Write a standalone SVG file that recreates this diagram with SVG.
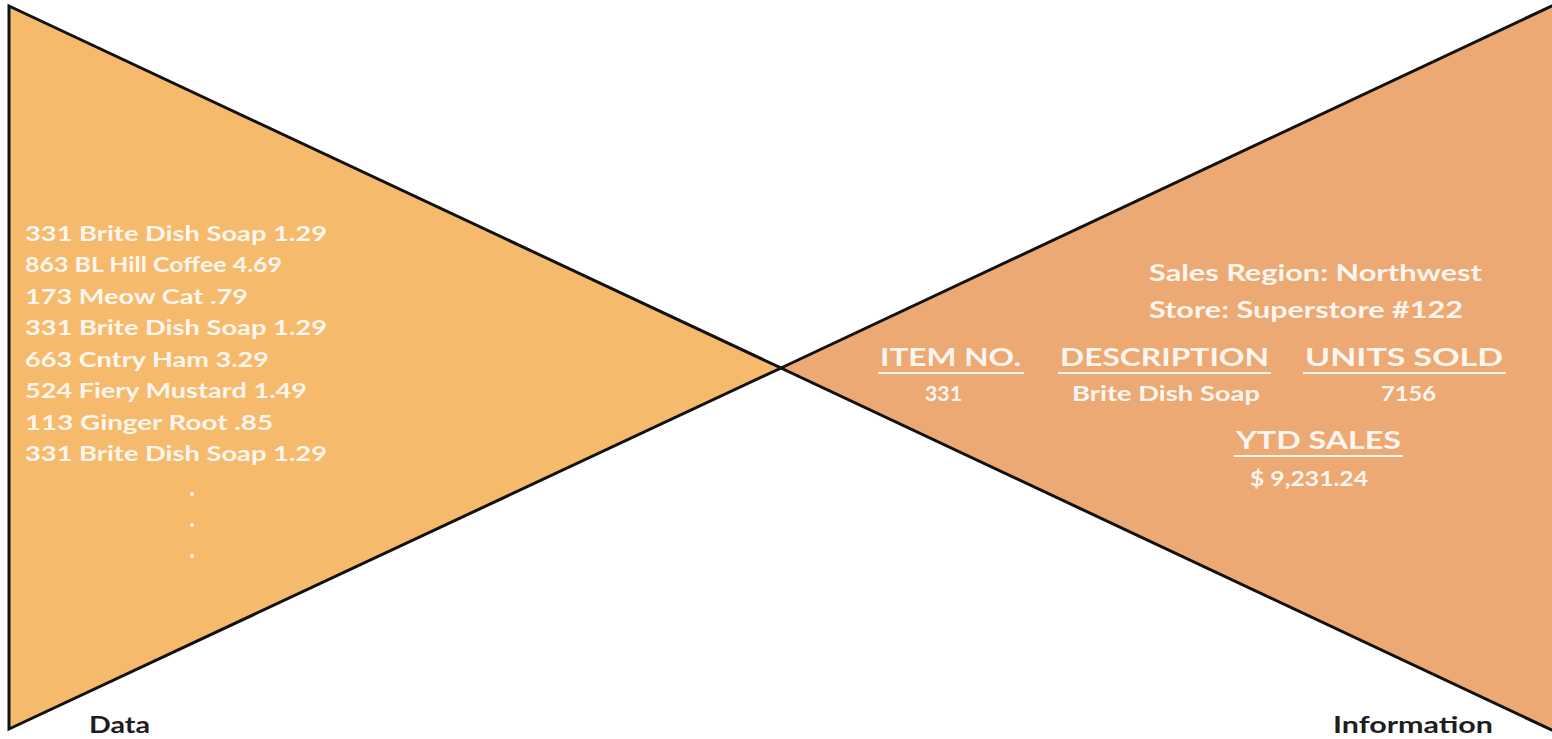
<svg xmlns="http://www.w3.org/2000/svg" width="1552" height="739" viewBox="0 0 1552 739">
<style>
.tri{stroke:#111;stroke-width:3;stroke-linejoin:miter}
.t{font-family:Lato,"Open Sans","Liberation Sans",sans-serif;font-weight:bold;fill:#fdf6ee}
.d{font-size:20px;white-space:pre}
.h{font-size:24px}
.v{font-size:21px}
.lbl{font-family:Lato,"Open Sans","Liberation Sans",sans-serif;font-weight:bold;font-size:22px;fill:#1e1e1e}
.ul{stroke:#fdf6ee;stroke-width:2}
</style>
<rect width="1552" height="739" fill="#ffffff"/>
<g id="data-triangle">
<polygon class="tri" points="9,6 781,368 9,729" fill="#F6BA6D"/>
<g class="t d" xml:space="preserve">
<text x="25" y="241" textLength="302" lengthAdjust="spacingAndGlyphs">331 Brite Dish Soap  1.29</text>
<text x="25" y="272" textLength="257" lengthAdjust="spacingAndGlyphs">863 BL Hill Coffee  4.69</text>
<text x="25" y="304" textLength="223" lengthAdjust="spacingAndGlyphs">173 Meow Cat  .79</text>
<text x="25" y="335" textLength="302" lengthAdjust="spacingAndGlyphs">331 Brite Dish Soap  1.29</text>
<text x="25" y="367" textLength="244" lengthAdjust="spacingAndGlyphs">663 Cntry Ham 3.29</text>
<text x="25" y="398" textLength="282" lengthAdjust="spacingAndGlyphs">524 Fiery Mustard  1.49</text>
<text x="25" y="430" textLength="248" lengthAdjust="spacingAndGlyphs">113 Ginger Root  .85</text>
<text x="25" y="461" textLength="302" lengthAdjust="spacingAndGlyphs">331 Brite Dish Soap  1.29</text>
</g>
<g fill="#fdf6ee">
<circle cx="192" cy="494" r="2"/>
<circle cx="192" cy="525" r="2"/>
<circle cx="192" cy="556" r="2"/>
</g>
</g>
<g id="information-triangle">
<polygon class="tri" points="781,368 1556,4 1556,732" fill="#EDA974"/>
<g class="t">
<text x="1149" y="281" font-size="23" textLength="333" lengthAdjust="spacingAndGlyphs">Sales Region: Northwest</text>
<text x="1149" y="318" font-size="23" textLength="314" lengthAdjust="spacingAndGlyphs">Store: Superstore #122</text>
<text class="h" x="880" y="366" textLength="141" lengthAdjust="spacingAndGlyphs">ITEM NO.</text>
<text class="h" x="1060" y="366" textLength="209" lengthAdjust="spacingAndGlyphs">DESCRIPTION</text>
<text class="h" x="1305" y="366" textLength="198" lengthAdjust="spacingAndGlyphs">UNITS SOLD</text>
<text class="v" x="925" y="401" textLength="37" lengthAdjust="spacingAndGlyphs">331</text>
<text class="v" x="1072" y="401" textLength="188" lengthAdjust="spacingAndGlyphs">Brite Dish Soap</text>
<text class="v" x="1381" y="401" textLength="55" lengthAdjust="spacingAndGlyphs">7156</text>
<text class="h" x="1236" y="449" textLength="165" lengthAdjust="spacingAndGlyphs">YTD SALES</text>
<text class="v" x="1250" y="486" textLength="118" lengthAdjust="spacingAndGlyphs">$ 9,231.24</text>
</g>
<g class="ul">
<line x1="878" y1="373" x2="1024" y2="373"/>
<line x1="1058" y1="373" x2="1271" y2="373"/>
<line x1="1303" y1="373" x2="1506" y2="373"/>
<line x1="1234" y1="456" x2="1403" y2="456"/>
</g>
</g>
<g id="labels">
<text class="lbl" x="89" y="733" textLength="61" lengthAdjust="spacingAndGlyphs">Data</text>
<text class="lbl" x="1333" y="733" textLength="160" lengthAdjust="spacingAndGlyphs">Information</text>
</g>
<g id="connectors"></g>
</svg>
